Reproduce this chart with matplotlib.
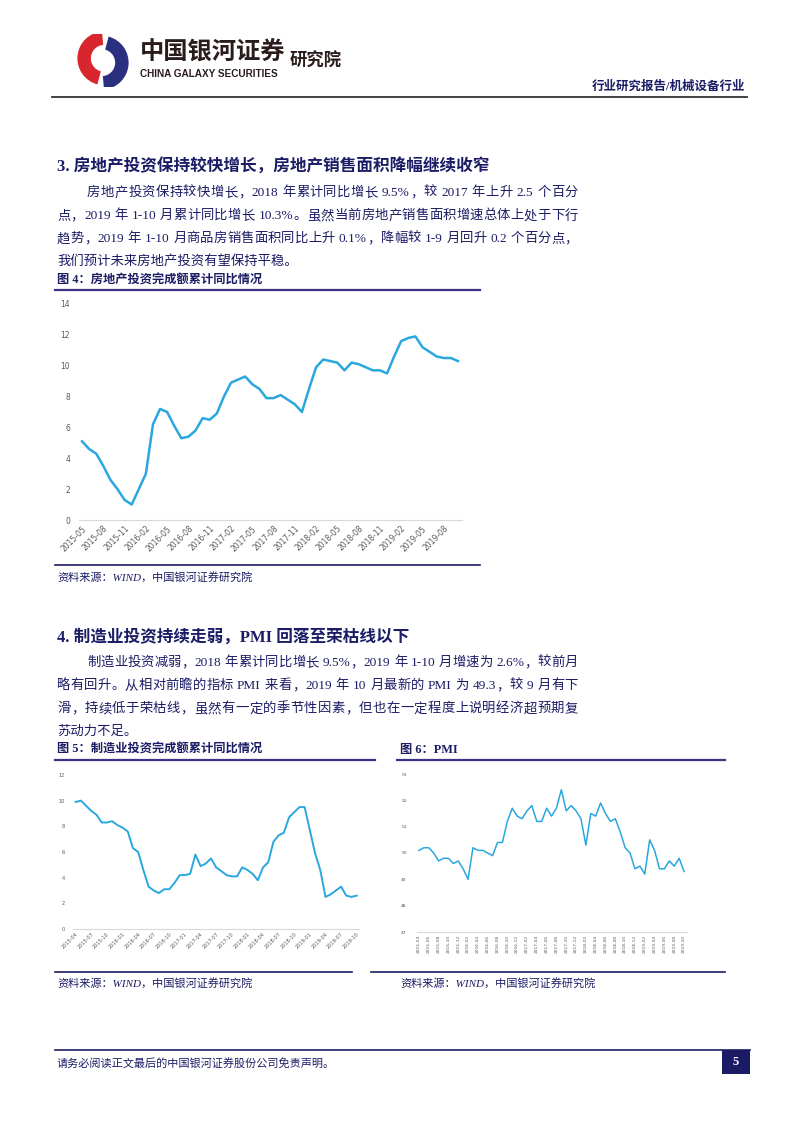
import re
import matplotlib
matplotlib.use("Agg")
import matplotlib.pyplot as plt
from matplotlib.lines import Line2D
from matplotlib.patches import Wedge, Rectangle

W, H = 802, 1133
CN = ["Liberation Serif", "Noto Sans CJK SC"]
NAVY = "#1c1c66"
BLUE = "#2aa7df"
GREY = "#595959"

# ---- data ----
re_labels = ["2015-05", "2015-08", "2015-11", "2016-02", "2016-05", "2016-08",
             "2016-11", "2017-02", "2017-05", "2017-08", "2017-11", "2018-02",
             "2018-05", "2018-08", "2018-11", "2019-02", "2019-05", "2019-08"]
re_values = [5.1, 4.6, 4.3, 3.5, 2.6, 2.0, 1.3, 1.0,
             2.0, 3.0, 6.2, 7.2, 7.0, 6.1, 5.3, 5.4, 5.8, 6.6, 6.5, 6.9,
             8.0, 8.9, 9.1, 9.3, 8.8, 8.5, 7.9, 7.9, 8.1, 7.8, 7.5, 7.0,
             8.5, 9.9, 10.4, 10.3, 10.2, 9.7, 10.2, 10.1, 9.9, 9.7, 9.7, 9.5,
             10.6, 11.6, 11.8, 11.9, 11.2, 10.9, 10.6, 10.5, 10.5, 10.3]

mfg_labels = ["2015-04", "2015-07", "2015-10", "2016-01", "2016-04", "2016-07",
              "2016-10", "2017-01", "2017-04", "2017-07", "2017-10", "2018-01",
              "2018-04", "2018-07", "2018-10", "2019-01", "2019-04", "2019-07",
              "2019-10"]
mfg_values = [9.9, 10.0, 9.6, 9.2, 8.9, 8.3, 8.3, 8.4, 8.1,
              7.9, 7.6, 6.3, 6.0, 4.6, 3.3, 3.0, 2.8, 3.1, 3.1, 3.6, 4.2,
              4.2, 4.3, 5.8, 4.9, 5.1, 5.5, 4.8, 4.5, 4.2, 4.1, 4.1, 4.8,
              4.6, 4.3, 3.8, 4.8, 5.2, 6.8, 7.3, 7.5, 8.7, 9.1, 9.5, 9.5,
              7.7, 5.9, 4.6, 2.5, 2.7, 3.0, 3.3, 2.6, 2.5, 2.6]

pmi_labels = ["2015-04", "2015-06", "2015-08", "2015-10", "2015-12", "2016-02",
              "2016-04", "2016-06", "2016-08", "2016-10", "2016-12", "2017-02",
              "2017-04", "2017-06", "2017-08", "2017-10", "2017-12", "2018-02",
              "2018-04", "2018-06", "2018-08", "2018-10", "2018-12", "2019-02",
              "2019-04", "2019-06", "2019-08", "2019-10"]
pmi_values = [50.1, 50.2, 50.2, 50.0, 49.7, 49.8, 49.8, 49.6, 49.7,
              49.4, 49.0, 50.2, 50.1, 50.1, 50.0, 49.9, 50.4, 50.4, 51.2, 51.7, 51.4,
              51.3, 51.6, 51.8, 51.2, 51.2, 51.7, 51.4, 51.7, 52.4, 51.6, 51.8, 51.6,
              51.3, 50.3, 51.5, 51.4, 51.9, 51.5, 51.2, 51.3, 50.8, 50.2, 50.0, 49.4,
              49.5, 49.2, 50.5, 50.1, 49.4, 49.4, 49.7, 49.5, 49.8, 49.3]

para3 = ["房地产投资保持较快增长，2018 年累计同比增长 9.5%，较 2017 年上升 2.5 个百分",
         "点，2019 年 1-10 月累计同比增长 10.3%。虽然当前房地产销售面积增速总体上处于下行",
         "趋势，2019 年 1-10 月商品房销售面积同比上升 0.1%，降幅较 1-9 月回升 0.2 个百分点，",
         "我们预计未来房地产投资有望保持平稳。"]
para4 = ["制造业投资减弱，2018 年累计同比增长 9.5%，2019 年 1-10 月增速为 2.6%，较前月",
         "略有回升。从相对前瞻的指标 PMI 来看，2019 年 10 月最新的 PMI 为 49.3，较 9 月有下",
         "滑，持续低于荣枯线，虽然有一定的季节性因素，但也在一定程度上说明经济超预期复",
         "苏动力不足。"]
source = "资料来源：WIND，中国银河证券研究院"

fig = plt.figure(figsize=(W / 100, H / 100), dpi=100)
renderer = fig.canvas.get_renderer()


def fy(y):
    return 1 - y / H


def text(x, y, s, **kw):
    kw.setdefault("va", "center")
    return fig.text(x / W, fy(y), s, **kw)


def hline(x0, x1, y, color, lw):
    fig.add_artist(Line2D([x0 / W, x1 / W], [fy(y), fy(y)], color=color, lw=lw))


def add_ax(l, t, r, b):
    return fig.add_axes([l / W, fy(b), (r - l) / W, (b - t) / H])


def justify(x0, x1, y, s, **kw):
    # spread the pieces of a line evenly between x0 and x1
    parts = re.findall(r"[A-Za-z0-9.%\-]+|\s|.", s)
    arts, widths = [], []
    for p in parts:
        t = text(0, y, p, **kw)
        arts.append(t)
        widths.append(t.get_window_extent(renderer).width)
    gap = (x1 - x0 - sum(widths)) / max(len(parts) - 1, 1)
    x = x0
    for t, w in zip(arts, widths):
        t.set_x(x / W)
        x += w + gap


# ---- header ----
lax = add_ax(72, 33, 134, 88)
lax.set_xlim(-1.15, 1.15)
lax.set_ylim(-1.0, 1.0)
lax.set_aspect("equal")
lax.axis("off")
lax.add_patch(Wedge((0.05, 0.08), 1.0, 95, 255, width=0.5, fc="#d9262e", ec="none"))
lax.add_patch(Wedge((-0.05, -0.08), 1.0, 275, 75, width=0.5, fc="#2b2f80", ec="none"))

text(140, 53, "中国银河证券", family=CN, fontsize=17.5, weight="bold", color="#2a1c1c")
text(140, 74, "CHINA GALAXY SECURITIES", family="Liberation Sans", fontsize=7.2,
     weight="bold", color="#2a1c1c")
text(290, 61, "研究院", family=CN, fontsize=12.5, weight="bold", color="#2a1c1c")
text(745, 87, "行业研究报告/机械设备行业", family=CN, fontsize=9, weight="bold",
     color=NAVY, ha="right")
hline(52, 747, 97, "#333333", 1.3)

# ---- section 3 ----
text(57, 167, "3. 房地产投资保持较快增长，房地产销售面积降幅继续收窄", family=CN,
     fontsize=12, weight="bold", color=NAVY)
ys = [193, 216, 239, 262]
for i, (y, s) in enumerate(zip(ys, para3)):
    x0 = 87 if i == 0 else 57
    if i < 3:
        justify(x0, 578, y, s, family=CN, fontsize=9.6, color=NAVY)
    else:
        text(x0, y, s, family=CN, fontsize=9.6, color=NAVY)

text(57, 281, "图 4：房地产投资完成额累计同比情况", family=CN, fontsize=8.8,
     weight="bold", color=NAVY)
hline(55, 480, 290, "#3b3486", 1.6)

ax4 = add_ax(78.5, 304, 461.5, 520)
ax4.plot(range(len(re_values)), re_values, color=BLUE, lw=1.8, solid_joinstyle="round")
ax4.set_xlim(-0.5, len(re_values) - 0.5)
ax4.set_ylim(0, 14)
ax4.set_yticks(range(0, 15, 2))
ax4.set_xticks(range(0, len(re_values), 3))
ax4.set_xticklabels(re_labels, rotation=45, ha="right", rotation_mode="anchor")
ax4.tick_params(length=0, labelsize=5.5, labelcolor=GREY, pad=3)
ax4.tick_params(axis="y", pad=6)
for k in ["top", "right", "left"]:
    ax4.spines[k].set_visible(False)
ax4.spines["bottom"].set_color("#d9d9d9")

hline(55, 480, 565, NAVY, 1.2)
text(57, 577, source, family=CN, fontsize=8, style="italic", color=NAVY)

# ---- section 4 ----
text(57, 637, "4. 制造业投资持续走弱，PMI 回落至荣枯线以下", family=CN,
     fontsize=12, weight="bold", color=NAVY)
ys = [663, 686, 709, 732]
for i, (y, s) in enumerate(zip(ys, para4)):
    x0 = 87 if i == 0 else 57
    if i < 3:
        justify(x0, 578, y, s, family=CN, fontsize=9.6, color=NAVY)
    else:
        text(x0, y, s, family=CN, fontsize=9.6, color=NAVY)

text(57, 750, "图 5：制造业投资完成额累计同比情况", family=CN, fontsize=8.8,
     weight="bold", color=NAVY)
text(400, 750, "图 6：PMI", family=CN, fontsize=8.8, weight="bold", color=NAVY)
hline(55, 375, 760, "#3b3486", 1.6)
hline(397, 725, 760, "#3b3486", 1.6)

ax5 = add_ax(73.1, 775, 359.3, 929)
ax5.plot(range(len(mfg_values)), mfg_values, color=BLUE, lw=1.4, solid_joinstyle="round")
ax5.set_xlim(-0.5, len(mfg_values) - 0.5)
ax5.set_ylim(0, 12)
ax5.set_yticks(range(0, 13, 2))
ax5.set_xticks(range(0, len(mfg_values), 3))
ax5.set_xticklabels(mfg_labels, rotation=45, ha="right", rotation_mode="anchor")
ax5.tick_params(length=0, labelsize=3.6, labelcolor=GREY, pad=2)
ax5.tick_params(axis="y", pad=6)
for k in ["top", "right", "left"]:
    ax5.spines[k].set_visible(False)
ax5.spines["bottom"].set_color("#d9d9d9")

ax6 = add_ax(416.5, 774, 686.5, 932)
ax6.plot(range(len(pmi_values)), pmi_values, color=BLUE, lw=1.1)
ax6.set_xlim(-0.5, len(pmi_values) - 0.5)
ax6.set_ylim(47, 53)
ax6.set_yticks(range(47, 54))
ax6.set_xticks(range(0, len(pmi_values), 2))
ax6.set_xticklabels(pmi_labels, rotation=90, ha="center", va="top")
ax6.tick_params(length=0, labelsize=3.2, labelcolor=GREY, pad=2)
ax6.tick_params(axis="y", pad=7)
for k in ["top", "right", "left"]:
    ax6.spines[k].set_visible(False)
ax6.spines["bottom"].set_color("#d9d9d9")

hline(55, 352, 972, NAVY, 1.2)
hline(371, 725, 972, NAVY, 1.2)
text(57, 983, source, family=CN, fontsize=8, style="italic", color=NAVY)
text(400, 983, source, family=CN, fontsize=8, style="italic", color=NAVY)

# ---- footer ----
hline(55, 750, 1050, NAVY, 1.2)
text(57, 1064, "请务必阅读正文最后的中国银河证券股份公司免责声明。", family=CN,
     fontsize=8, color=NAVY)
fig.add_artist(Rectangle((722 / W, fy(1074)), 28 / W, 24 / H, transform=fig.transFigure,
                         fc="#1a1a66", ec="none"))
text(736, 1062, "5", family="Liberation Serif", fontsize=9, weight="bold",
     color="white", ha="center")

fig.savefig("out.png", dpi=100)
